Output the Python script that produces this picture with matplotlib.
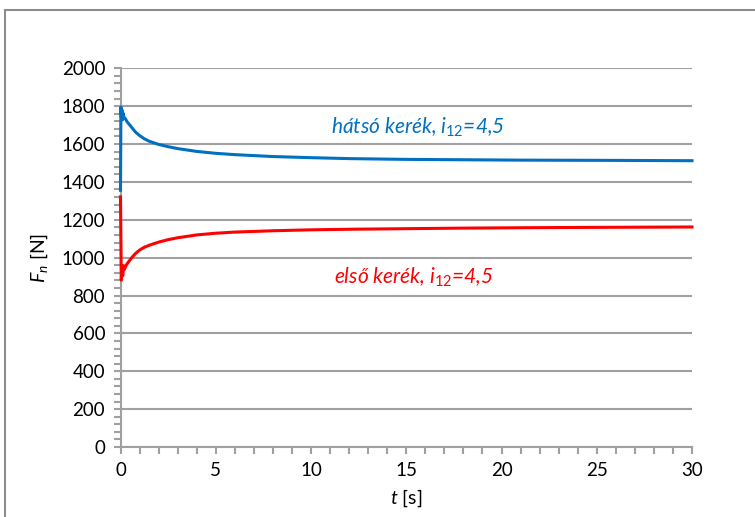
import matplotlib
matplotlib.use("Agg")
import matplotlib.pyplot as plt
from matplotlib.ticker import MultipleLocator
from matplotlib.patches import Rectangle

plt.rcParams['font.family'] = ['Lato', 'DejaVu Sans']
plt.rcParams['mathtext.fontset'] = 'custom'
plt.rcParams['mathtext.it'] = 'Lato:italic'
plt.rcParams['mathtext.rm'] = 'Lato'

# rear wheel (hátsó kerék)
t_rear = [0, 0.02, 0.05, 0.08, 0.11, 0.14, 0.18, 0.25, 0.35, 0.5, 0.65, 0.8, 1, 1.25, 1.5,
          2, 2.5, 3, 4, 5, 6, 8, 10, 12, 15, 18, 21, 25, 30]
f_rear = [1356, 1796, 1740, 1780, 1728, 1762, 1742, 1735, 1717, 1699, 1680, 1662, 1645, 1628,
          1615, 1598, 1586, 1576, 1561, 1551, 1544, 1534, 1528, 1523, 1519, 1517, 1515, 1514, 1512]

# front wheel (első kerék)
t_front = [0, 0.04, 0.08, 0.12, 0.16, 0.2, 0.3, 0.4, 0.5, 0.65, 0.8, 1, 1.25, 1.5, 2, 2.5,
           3, 4, 5, 6, 8, 10, 12, 15, 18, 21, 25, 30]
f_front = [1321, 881, 935, 905, 958, 938, 960, 975, 988, 1007, 1023, 1040, 1055, 1065, 1082, 1095,
           1105, 1120, 1129, 1135, 1142, 1147, 1150, 1153, 1156, 1158, 1160, 1162]

label_rear = r"hátsó kerék, $\mathit{i}_{\mathit{12}}$=4,5"
label_front = r"első kerék, $\mathit{i}_{\mathit{12}}$=4,5"

W, H = 755, 517
fig = plt.figure(figsize=(W / 100, H / 100), dpi=100)
ax = fig.add_axes([120.5 / W, 1 - 447 / H, (692 - 120.5) / W, (447 - 68.3) / H])

grid_c = '#a0a0a0'
ax.plot(t_rear, f_rear, color='#0070C0', lw=2.2, solid_joinstyle='round', zorder=4, clip_on=False)
ax.plot(t_front, f_front, color='#FF0000', lw=2.2, solid_joinstyle='round', zorder=4, clip_on=False)

ax.set_xlim(0, 30)
ax.set_ylim(0, 2000)
ax.xaxis.set_major_locator(MultipleLocator(5))
ax.xaxis.set_minor_locator(MultipleLocator(1))
ax.yaxis.set_major_locator(MultipleLocator(200))
ax.yaxis.set_minor_locator(MultipleLocator(40))
ax.grid(True, axis='y', which='major', color=grid_c, lw=1.5)
ax.set_axisbelow(True)

for s in ['top', 'right']:
    ax.spines[s].set_visible(False)
for s in ['left', 'bottom']:
    ax.spines[s].set_color(grid_c)
    ax.spines[s].set_linewidth(1.5)

ax.tick_params(which='both', direction='out', color=grid_c, width=1.5, length=5)
ax.tick_params(which='major', labelsize=13.5, pad=6)

ax.text(15.6, 1690, label_rear, color='#0070C0', fontsize=15, style='italic',
        ha='center', va='center')
ax.text(15.4, 895, label_front, color='#FF0000', fontsize=15, style='italic',
        ha='center', va='center')

ax.set_xlabel(r"$\mathit{t}$ [s]", fontsize=14, labelpad=6)
ax.set_ylabel(r"$\mathit{F_n}$ [N]", fontsize=14, labelpad=8)

fig.patches.append(Rectangle((5 / W, -0.1), 1.2, 1.1 - 9.5 / H, transform=fig.transFigure,
                             fill=False, edgecolor='#8c8c8c', lw=1.5, clip_on=False))

fig.savefig('out.png', dpi=100)
